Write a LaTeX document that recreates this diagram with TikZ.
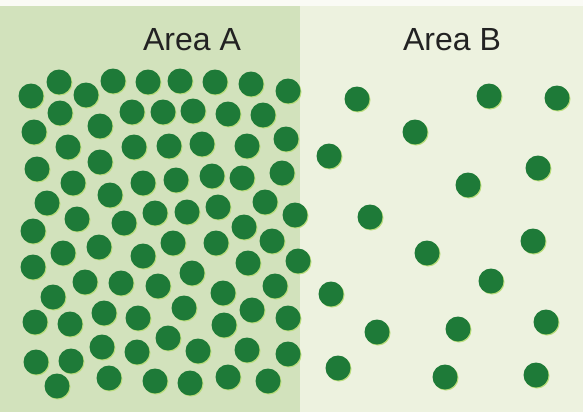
\documentclass[tikz,border=0pt]{standalone}
\usepackage{fontspec}
\setmainfont{Liberation Sans}
\definecolor{bgA}{HTML}{D2E2BC}
\definecolor{bgB}{HTML}{EDF2DF}
\definecolor{dotc}{HTML}{1E7A38}
\definecolor{halo}{HTML}{B9DC7A}
\definecolor{txt}{HTML}{222222}
\begin{document}
\begin{tikzpicture}[x=1pt,y=-1pt,
  dotfill/.style={fill=dotc},
  halofill/.style={fill=halo},
  label/.style={font=\fontsize{32}{36}\selectfont, text=txt, inner sep=0pt, anchor=base}]
\useasboundingbox (0,0) rectangle (583,412);
\fill[bgB] (0,0) rectangle (583,412);
\fill[bgA] (0,6) rectangle (300,412);
\fill[white!70!bgB] (0,0) rectangle (583,6);
\node[label] (la) at (192,51) {Area A};
\node[label] (lb) at (452,51) {Area B};
\def\rr{12.5}
\foreach \x/\y in {
 31/96, 59/82, 86/95, 113/81, 148/82, 180/81, 215/82, 251/84, 288/91,
 60/113, 132/112, 163/112, 193/111, 228/114, 263/115, 100/126, 34/132,
 68/147, 134/147, 169/146, 202/144, 247/146, 286/139, 100/162, 37/169,
 73/183, 143/183, 176/180, 212/176, 242/178, 282/173, 110/195, 47/203,
 77/219, 124/223, 155/213, 187/212, 218/207, 265/202, 295/215, 244/227, 33/231,
 272/241, 216/243, 173/243, 99/247, 63/253, 143/256, 248/263, 298/261, 33/267,
 192/273, 85/282, 121/283, 158/286, 275/286, 223/293, 53/297,
 184/308, 252/310, 104/313, 138/318, 288/318, 35/322, 70/324, 224/325,
 168/338, 102/347, 137/352, 198/351, 247/350, 288/354, 36/362, 71/361,
 57/386, 109/378, 155/381, 190/383, 228/377, 268/381,
 357/99, 489/96, 557/98, 415/132, 329/156, 538/168, 468/185, 370/217,
 533/241, 427/253, 491/281, 331/294, 546/322, 377/332, 458/329,
 338/368, 445/377, 536/375}
{
  \fill[halofill] (\x+1,\y+1) circle (\rr);
  \fill[dotfill] (\x,\y) circle (\rr);
}
\end{tikzpicture}
\end{document}
